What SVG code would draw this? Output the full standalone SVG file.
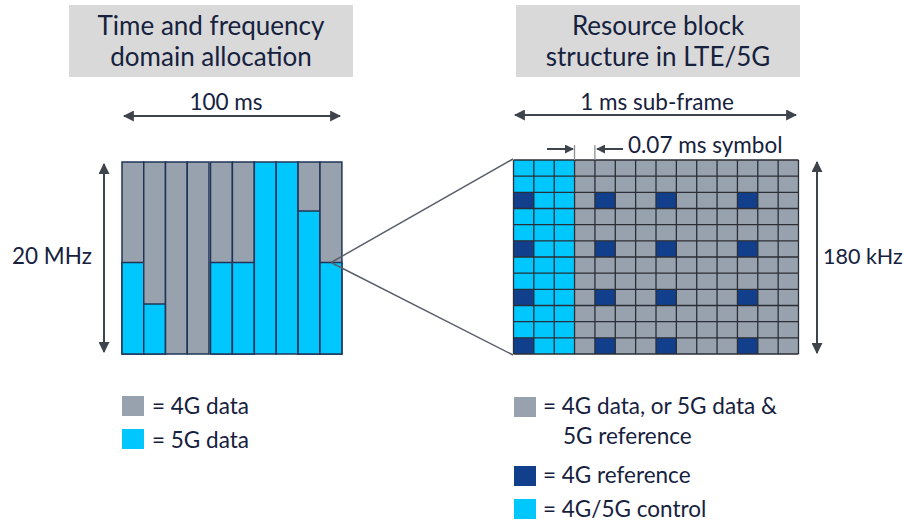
<svg xmlns="http://www.w3.org/2000/svg" width="904" height="521" viewBox="0 0 904 521">
<style>
text{font-family:Lato,"Liberation Sans",sans-serif;fill:#16213E}
.t{font-size:26px;text-anchor:middle}
.l{font-size:22.5px}
.g{fill:#98A2AE}
.c{fill:#00C8FF}
.d{fill:#123F8C}
.col{stroke:#1F3458;stroke-width:1.5}
.arr{stroke:#3E434C;stroke-width:2;fill:none;marker-start:url(#ah);marker-end:url(#ah)}
</style>
<defs>
<marker id="ah" viewBox="0 0 10 10" refX="9" refY="5" markerWidth="5.5" markerHeight="5.5" orient="auto-start-reverse" markerUnits="strokeWidth">
<path d="M0,0L10,5L0,10z" fill="#3E434C"/>
</marker>
<marker id="sh" viewBox="0 0 10 10" refX="9" refY="5" markerWidth="4.5" markerHeight="4.5" orient="auto" markerUnits="strokeWidth">
<path d="M0,0L10,5L0,10z" fill="#3E434C"/>
</marker>
</defs>
<g id="title-left">
<rect x="69" y="5" width="284" height="72" fill="#D9D9D9"/>
<text class="t" x="211" y="35">Time and frequency</text>
<text class="t" x="211" y="66">domain allocation</text>
</g>
<g id="title-right">
<rect x="516" y="5" width="284" height="72" fill="#D9D9D9"/>
<text class="t" x="658" y="35">Resource block</text>
<text class="t" x="658" y="66">structure in LTE/5G</text>
</g>
<g id="allocation-chart" class="col">
<rect class="g" x="122" y="162" width="21.75" height="192"/>
<rect class="c" x="122" y="262.5" width="21.75" height="91.5"/>
<rect class="g" x="143.75" y="162" width="21.75" height="192"/>
<rect class="c" x="143.75" y="304" width="21.75" height="50"/>
<rect class="g" x="165.5" y="162" width="21.75" height="192"/>
<rect class="g" x="187.25" y="162" width="21.75" height="192"/>
<rect class="g" x="210.5" y="162" width="21.9" height="192"/>
<rect class="c" x="210.5" y="262.5" width="21.9" height="91.5"/>
<rect class="g" x="232.4" y="162" width="21.9" height="192"/>
<rect class="c" x="232.4" y="262.5" width="21.9" height="91.5"/>
<rect class="c" x="254.3" y="162" width="21.9" height="192"/>
<rect class="c" x="276.2" y="162" width="21.9" height="192"/>
<rect class="g" x="298.1" y="162" width="21.9" height="192"/>
<rect class="c" x="298.1" y="211" width="21.9" height="143"/>
<rect class="g" x="320" y="162" width="21.9" height="192"/>
<rect class="c" x="320" y="262.5" width="21.9" height="91.5"/>
</g>
<g id="resource-grid">
<rect class="g" x="513.5" y="160" width="285" height="194"/>
<rect class="c" x="513.5" y="160" width="61.07" height="194"/>
<g class="d">
<rect x="513.5" y="192.33" width="20.36" height="16.17"/>
<rect x="513.5" y="240.83" width="20.36" height="16.17"/>
<rect x="513.5" y="289.33" width="20.36" height="16.17"/>
<rect x="513.5" y="337.83" width="20.36" height="16.17"/>
<rect x="594.93" y="192.33" width="20.36" height="16.17"/>
<rect x="594.93" y="240.83" width="20.36" height="16.17"/>
<rect x="594.93" y="289.33" width="20.36" height="16.17"/>
<rect x="594.93" y="337.83" width="20.36" height="16.17"/>
<rect x="656" y="192.33" width="20.36" height="16.17"/>
<rect x="656" y="240.83" width="20.36" height="16.17"/>
<rect x="656" y="289.33" width="20.36" height="16.17"/>
<rect x="656" y="337.83" width="20.36" height="16.17"/>
<rect x="737.43" y="192.33" width="20.36" height="16.17"/>
<rect x="737.43" y="240.83" width="20.36" height="16.17"/>
<rect x="737.43" y="289.33" width="20.36" height="16.17"/>
<rect x="737.43" y="337.83" width="20.36" height="16.17"/>
</g>
<path fill="none" stroke="#2A2E36" stroke-width="1.3" d="M513.5,160V354M533.86,160V354M554.21,160V354M574.57,160V354M594.93,160V354M615.29,160V354M635.64,160V354M656,160V354M676.36,160V354M696.71,160V354M717.07,160V354M737.43,160V354M757.79,160V354M778.14,160V354M798.5,160V354M513.5,160H798.5M513.5,176.17H798.5M513.5,192.33H798.5M513.5,208.5H798.5M513.5,224.67H798.5M513.5,240.83H798.5M513.5,257H798.5M513.5,273.17H798.5M513.5,289.33H798.5M513.5,305.5H798.5M513.5,321.67H798.5M513.5,337.83H798.5M513.5,354H798.5"/>
</g>
<g id="connectors">
<path d="M331,262.5L513,159M331,262.5L513,355" fill="none" stroke="#5B606A" stroke-width="1.5"/>
<path class="arr" d="M124,116H340"/>
<path class="arr" d="M515,115H796"/>
<path class="arr" d="M104,164V352"/>
<path class="arr" d="M817,162V353"/>
<path d="M574.5,145V160M594.9,145V160" stroke="#8A8F98" stroke-width="1.3"/>
<path d="M547,149H573" stroke="#3E434C" stroke-width="2" marker-end="url(#sh)"/>
<path d="M623,149H597" stroke="#3E434C" stroke-width="2" marker-end="url(#sh)"/>
</g>
<g id="labels">
<text class="l" x="226" y="110" text-anchor="middle">100 ms</text>
<text class="l" x="657" y="110" text-anchor="middle">1 ms sub-frame</text>
<text class="l" x="628" y="153">0.07 ms symbol</text>
<text class="l" x="12" y="264">20 MHz</text>
<text class="l" x="823" y="264" style="font-size:21.5px">180 kHz</text>
</g>
<g id="legend-left">
<rect class="g" x="122" y="396" width="22" height="20"/>
<text class="l" x="152" y="414">= 4G data</text>
<rect class="c" x="122" y="429" width="22" height="20"/>
<text class="l" x="152" y="448">= 5G data</text>
</g>
<g id="legend-right">
<rect class="g" x="514" y="397" width="22" height="20"/>
<text class="l" x="543" y="414">= 4G data, or 5G data &amp;</text>
<text class="l" x="563" y="444">5G reference</text>
<rect class="d" x="514" y="466" width="22" height="20"/>
<text class="l" x="543" y="483">= 4G reference</text>
<rect class="c" x="514" y="499" width="22" height="20"/>
<text class="l" x="543" y="517">= 4G/5G control</text>
</g>
</svg>
